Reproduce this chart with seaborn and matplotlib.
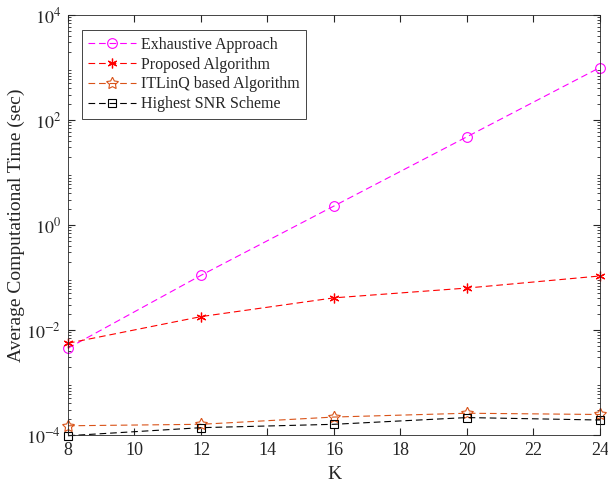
import matplotlib
matplotlib.use("Agg")
import matplotlib.pyplot as plt
import seaborn as sns
import pandas as pd
import numpy as np
from matplotlib.ticker import LogLocator, NullFormatter

K = [8, 12, 16, 20, 24]
exhaustive = [4.5e-3, 0.11, 2.3, 48, 1000]
proposed = [5.6e-3, 0.018, 0.041, 0.063, 0.107]
itlinq = [1.5e-4, 1.6e-4, 2.2e-4, 2.6e-4, 2.46e-4]
highest_snr = [0.97e-4, 1.38e-4, 1.6e-4, 2.15e-4, 1.93e-4]

names = ["Exhaustive Approach", "Proposed Algorithm", "ITLinQ based Algorithm", "Highest SNR Scheme"]
series = [exhaustive, proposed, itlinq, highest_snr]
colors = ["#ff00ff", "#ff0000", "#d95319", "#000000"]
markers = ["o", "*", "*", "s"]

sns.set_style("ticks")
plt.rcParams['font.family'] = ['Liberation Serif', 'DejaVu Serif']
plt.rcParams['mathtext.fontset'] = 'stix'

fig = plt.figure(figsize=(6.08, 4.84), dpi=100)
ax = fig.add_axes([0.1118, 0.1012, 0.875, 0.8678])

for name, vals, c, m in zip(names, series, colors, markers):
    df = pd.DataFrame({"K": K, "t": vals})
    if name == "ITLinQ based Algorithm":
        mk = dict(marker=(5, 1, 0), markersize=9, markerfacecolor='none', markeredgecolor=c, markeredgewidth=0.8)
    elif m == "*":
        mk = dict(marker=(6, 2, 0), markersize=7, markerfacecolor=c, markeredgecolor=c, markeredgewidth=0.9)
    else:
        mk = dict(marker=m, markersize=7 if m == "o" else 6, markerfacecolor='none', markeredgecolor=c, markeredgewidth=0.8)
    sns.lineplot(data=df, x="K", y="t", ax=ax, color=c, linestyle=(0, (6, 3.5)), linewidth=0.8,
                 label=name, clip_on=False, **mk)

ax.set_yscale("log")
ax.set_xlim(8, 24)
ax.set_ylim(1e-4, 1e4)
ax.set_xticks([8, 10, 12, 14, 16, 18, 20, 22, 24])
ax.set_yticks([1e-4, 1e-2, 1e0, 1e2, 1e4])
ax.set_yticklabels([r"$10^{-4}$", r"$10^{-2}$", r"$10^{0}$", r"$10^{2}$", r"$10^{4}$"])
ax.yaxis.set_minor_locator(LogLocator(base=10, subs=np.arange(2, 10), numticks=20))
ax.yaxis.set_minor_formatter(NullFormatter())
ax.tick_params(which='both', direction='in', top=True, right=True, labelsize=13, colors='#262626')
ax.tick_params(which='major', length=5, pad=5)
ax.tick_params(which='minor', length=2.5)
for s in ax.spines.values():
    s.set_linewidth(0.6)
    s.set_color('#262626')

ax.set_xlabel("K", fontsize=14, labelpad=5)
ax.set_ylabel("Average Computational Time (sec)", fontsize=14, labelpad=0.5)

leg = ax.legend(loc="upper left", bbox_to_anchor=(0.026, 0.964), fontsize=11.5, frameon=True, fancybox=False,
                edgecolor='#262626', framealpha=1, handlelength=3.0, borderpad=0.4, labelspacing=0.25,
                handletextpad=0.3, borderaxespad=0)
leg.get_frame().set_linewidth(0.6)

fig.savefig("out.png", dpi=100)
